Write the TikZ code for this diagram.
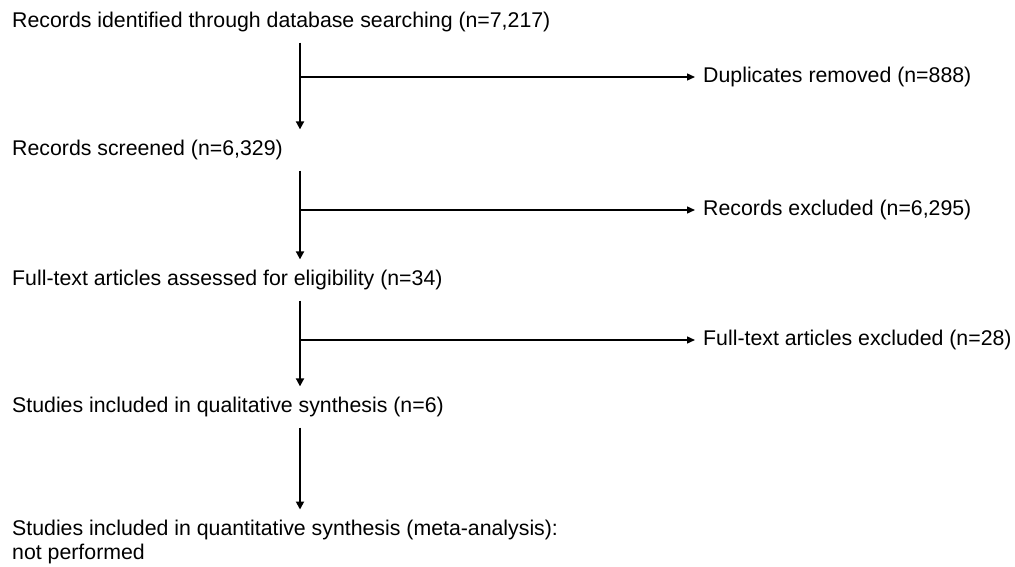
\documentclass[tikz,border=0pt]{standalone}
\usepackage{fontspec}
\setmainfont{Liberation Sans}
\usetikzlibrary{arrows.meta}
\begin{document}
\begin{tikzpicture}[x=1pt,y=-1pt,
  txt/.style={anchor=base west,inner xsep=0pt,inner ysep=10.5pt,font=\fontsize{21.3pt}{24pt}\selectfont},
  side/.style={anchor=west,inner xsep=8pt,inner ysep=0pt,font=\fontsize{21.3pt}{24pt}\selectfont},
  vline/.style={line width=1.8pt,-{Triangle[length=8pt,width=8pt]}},
  hline/.style={line width=1.4pt,-{Triangle[length=8pt,width=7pt]}}
]
\useasboundingbox (0,0) rectangle (1015,567);
\coordinate (vx) at (300,0);
% main column
\node[txt] (n1) at (12,27.5) {Records identified through database searching (n=7,217)};
\node[txt] (n2) at (12,155.5) {Records screened (n=6,329)};
\node[txt] (n3) at (12,285.5) {Full-text articles assessed for eligibility (n=34)};
\node[txt] (n4) at (12,412.5) {Studies included in qualitative synthesis (n=6)};
\node[txt,anchor=north west,align=left] (n5) at (12,509.5) {Studies included in quantitative synthesis (meta-analysis):\\not performed};
% side boxes
\node[side] (d1) at (695,77) {Duplicates removed (n=888)};
\node[side] (d2) at (695,210) {Records excluded (n=6,295)};
\node[side] (d3) at (695,340) {Full-text articles excluded (n=28)};
% branch points
\coordinate (b1) at (300,77);
\coordinate (b2) at (300,210);
\coordinate (b3) at (300,340);
% vertical arrows
\draw[vline] (n1.south -| vx) -- (n2.north -| vx);
\draw[vline] (n2.south -| vx) -- (n3.north -| vx);
\draw[vline] (n3.south -| vx) -- (n4.north -| vx);
\draw[vline] (n4.south -| vx) -- (n5.north -| vx);
% horizontal arrows
\draw[hline] (b1) -- (b1 -| d1.west);
\draw[hline] (b2) -- (b2 -| d2.west);
\draw[hline] (b3) -- (b3 -| d3.west);
\end{tikzpicture}
\end{document}
